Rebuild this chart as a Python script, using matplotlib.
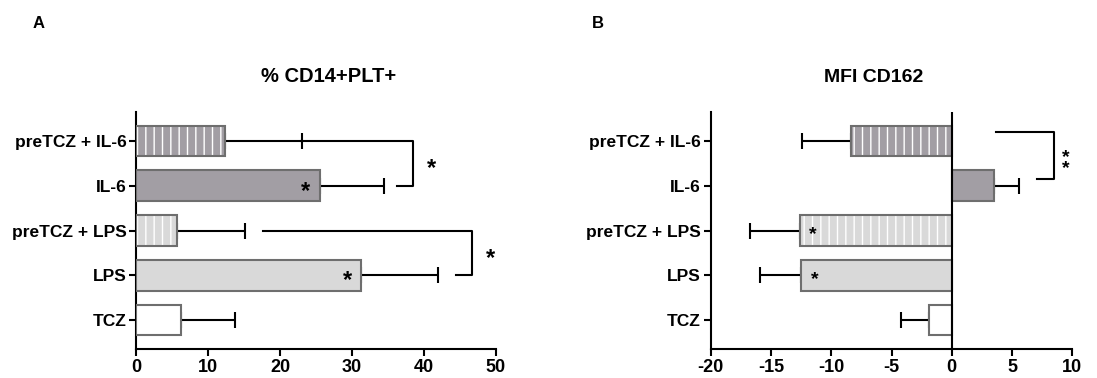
import matplotlib.pyplot as plt
import numpy as np

plt.rcParams['font.family'] = ['Liberation Sans', 'DejaVu Sans']
plt.rcParams['font.weight'] = 'bold'
plt.rcParams['hatch.linewidth'] = 1.0
plt.rcParams['axes.unicode_minus'] = False

# categories listed top to bottom
groups = ['preTCZ + IL-6', 'IL-6', 'preTCZ + LPS', 'LPS', 'TCZ']

# panel A: % CD14+PLT+
pct_vals = [12.4, 25.5, 5.7, 31.2, 6.2]
pct_err = [10.6, 8.9, 9.4, 10.7, 7.6]

# panel B: MFI CD162
mfi_vals = [-8.4, 3.5, -12.6, -12.5, -1.9]
mfi_err = [4.0, 2.1, 4.1, 3.4, 2.3]

fills = ['#a29ea4', '#a29ea4', '#d9d9d9', '#d9d9d9', '#ffffff']
striped = [True, False, True, False, False]
edge = '#6e6e6e'

W, H = 1097, 378
fig = plt.figure(figsize=(W / 100, H / 100), dpi=100)
axA = fig.add_axes([136 / W, 29 / H, 360 / W, 237 / H])
axB = fig.add_axes([710.7 / W, 29 / H, 361.6 / W, 237 / H])

pos = np.arange(len(groups))[::-1]


def draw_bars(ax, vals, errs):
    vals = np.array(vals)
    errs = np.array(errs)
    lower = np.where(vals < 0, errs, 0)
    upper = np.where(vals >= 0, errs, 0)
    ax.errorbar(vals, pos, xerr=[lower, upper], fmt='none', ecolor='black',
                elinewidth=1.5, capsize=6, capthick=1.5, zorder=2)
    for p, v, c, s in zip(pos, vals, fills, striped):
        if s:
            ax.barh(p, v, height=0.69, color=c, edgecolor='white', hatch='||',
                    linewidth=0, zorder=3)
            ax.barh(p, v, height=0.69, fill=False, edgecolor=edge,
                    linewidth=1.5, zorder=4)
        else:
            ax.barh(p, v, height=0.69, color=c, edgecolor=edge,
                    linewidth=1.5, zorder=4)
    ax.set_yticks(pos)
    ax.set_yticklabels(groups)
    ax.set_ylim(-0.65, 4.65)
    for side in ['top', 'right']:
        ax.spines[side].set_visible(False)
    for side in ['left', 'bottom']:
        ax.spines[side].set_linewidth(1.5)
    ax.tick_params(width=1.5, length=5, pad=2)
    ax.tick_params(axis='y', labelsize=12.5)
    ax.tick_params(axis='x', labelsize=13)


draw_bars(axA, pct_vals, pct_err)
axA.set_xlim(0, 50)
axA.set_xticks(range(0, 51, 10))

draw_bars(axB, mfi_vals, mfi_err)
axB.set_xlim(-20, 10)
axB.set_xticks(range(-20, 11, 5))
axB.axvline(0, color='black', lw=1.5, zorder=5)

star = dict(ha='center', va='center', fontsize=17, fontweight='bold',
            clip_on=False, zorder=6)
small_star = dict(star, fontsize=14)

# significance inside bars
axA.text(23.6, 3 - 0.12, '*', **star)
axA.text(29.4, 1 - 0.12, '*', **star)
axB.text(-11.5, 2 - 0.1, '*', **small_star)
axB.text(-11.4, 1 - 0.1, '*', **small_star)

# brackets
lw = 1.5
axA.plot([22.9, 38.5, 38.5, 36.3], [4, 4, 3, 3], color='black', lw=lw, clip_on=False)
axA.text(41.1, 3.5 - 0.12, '*', **star)
axA.plot([17.6, 46.6, 46.6, 44.4], [2, 2, 1, 1], color='black', lw=lw, clip_on=False)
axA.text(49.2, 1.5 - 0.12, '*', **star)

axB.plot([3.7, 8.5, 8.5, 7.05], [4.2, 4.2, 3.16, 3.16], color='black', lw=lw, clip_on=False)
axB.text(9.45, 3.63 - 0.12, '*\n*', linespacing=0.55, **small_star)

fig.text(329 / W, 1 - 77 / H, '% CD14+PLT+', ha='center', va='center', fontsize=14.5, fontweight='bold')
fig.text(874 / W, 1 - 77 / H, 'MFI CD162', ha='center', va='center', fontsize=14, fontweight='bold')
fig.text(39 / W, 1 - 24 / H, 'A', ha='center', va='center', fontsize=12, fontweight='bold')
fig.text(598 / W, 1 - 24 / H, 'B', ha='center', va='center', fontsize=12, fontweight='bold')

fig.savefig('out.png', dpi=100)
